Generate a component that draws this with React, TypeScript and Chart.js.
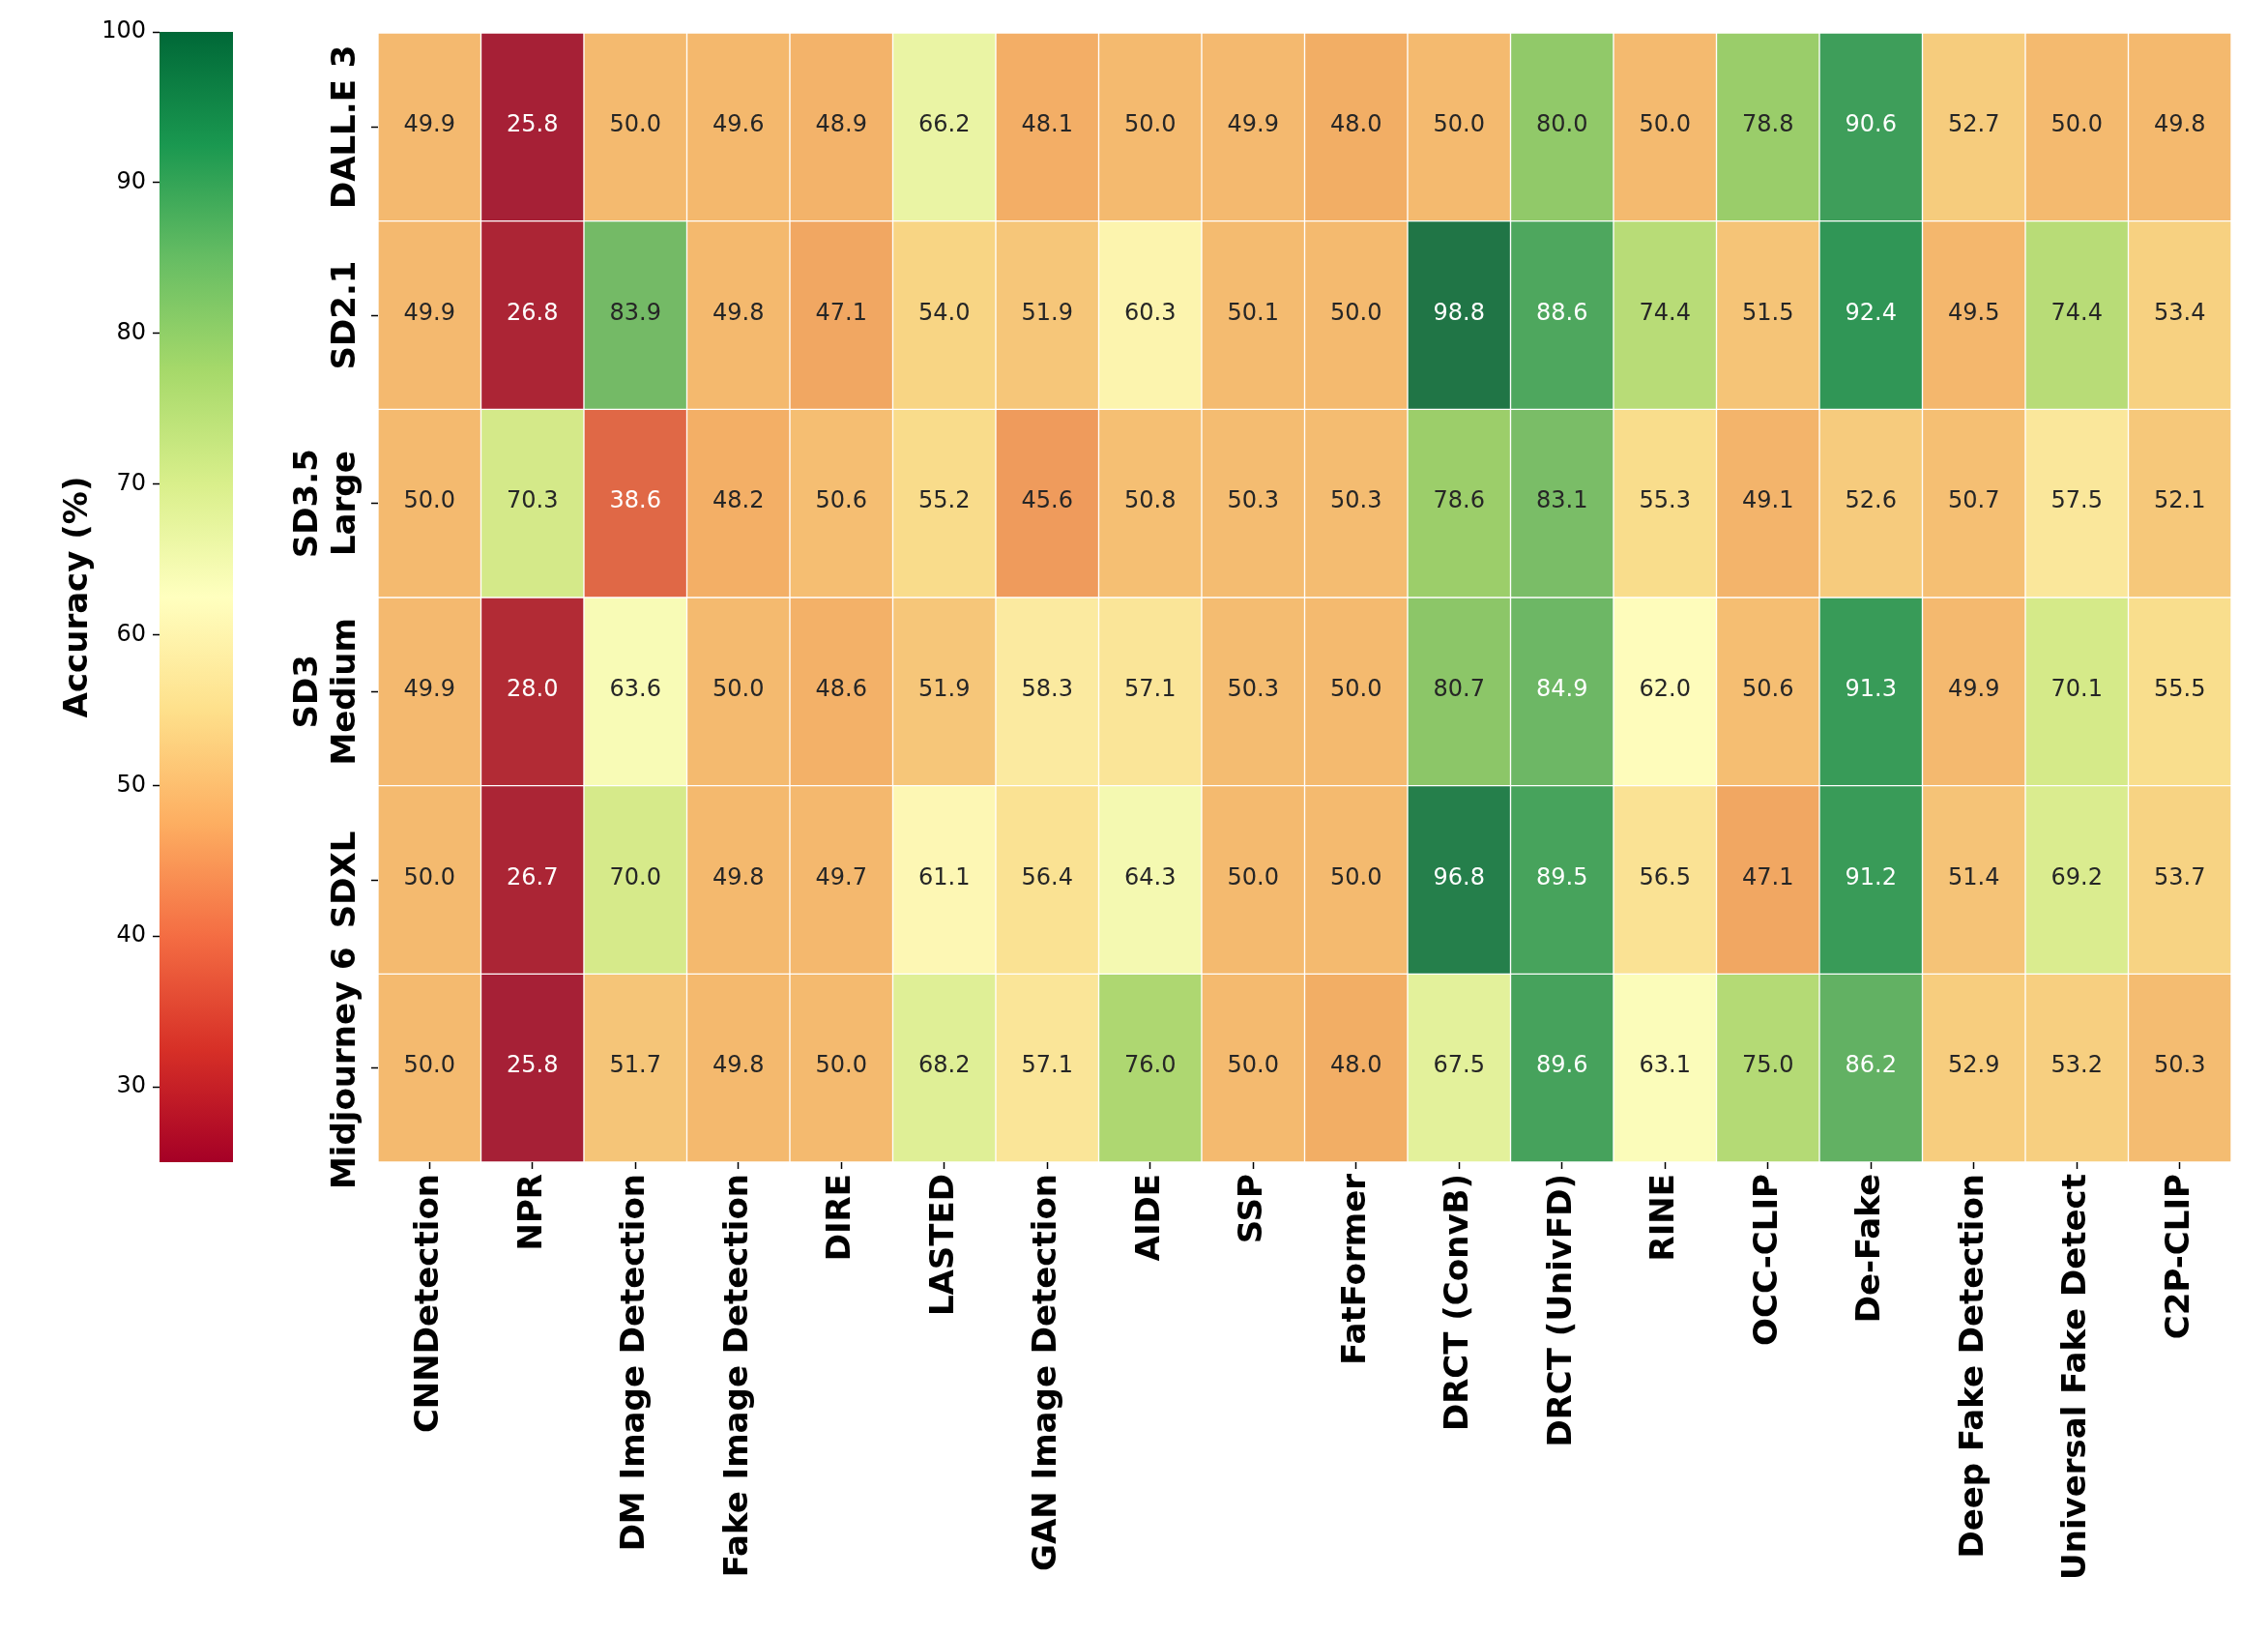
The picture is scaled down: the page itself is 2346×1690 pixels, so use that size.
import React, { useEffect, useRef } from 'react';
import { Chart, registerables } from 'chart.js';

Chart.register(...registerables);

// ---------- data ----------
const detectors = [
  'CNNDetection', 'NPR', 'DM Image Detection', 'Fake Image Detection', 'DIRE', 'LASTED',
  'GAN Image Detection', 'AIDE', 'SSP', 'FatFormer', 'DRCT (ConvB)', 'DRCT (UnivFD)',
  'RINE', 'OCC-CLIP', 'De-Fake', 'Deep Fake Detection', 'Universal Fake Detect', 'C2P-CLIP',
];

const generators: string[][] = [
  ['DALL.E 3'], ['SD2.1'], ['SD3.5', 'Large'], ['SD3', 'Medium'], ['SDXL'], ['Midjourney 6'],
];

const dalle3 = [49.9, 25.8, 50.0, 49.6, 48.9, 66.2, 48.1, 50.0, 49.9, 48.0, 50.0, 80.0, 50.0, 78.8, 90.6, 52.7, 50.0, 49.8];
const sd21 = [49.9, 26.8, 83.9, 49.8, 47.1, 54.0, 51.9, 60.3, 50.1, 50.0, 98.8, 88.6, 74.4, 51.5, 92.4, 49.5, 74.4, 53.4];
const sd35Large = [50.0, 70.3, 38.6, 48.2, 50.6, 55.2, 45.6, 50.8, 50.3, 50.3, 78.6, 83.1, 55.3, 49.1, 52.6, 50.7, 57.5, 52.1];
const sd3Medium = [49.9, 28.0, 63.6, 50.0, 48.6, 51.9, 58.3, 57.1, 50.3, 50.0, 80.7, 84.9, 62.0, 50.6, 91.3, 49.9, 70.1, 55.5];
const sdxl = [50.0, 26.7, 70.0, 49.8, 49.7, 61.1, 56.4, 64.3, 50.0, 50.0, 96.8, 89.5, 56.5, 47.1, 91.2, 51.4, 69.2, 53.7];
const midjourney6 = [50.0, 25.8, 51.7, 49.8, 50.0, 68.2, 57.1, 76.0, 50.0, 48.0, 67.5, 89.6, 63.1, 75.0, 86.2, 52.9, 53.2, 50.3];

const accuracy = [dalle3, sd21, sd35Large, sd3Medium, sdxl, midjourney6];

const colorbarTicks = [30, 40, 50, 60, 70, 80, 90, 100];
const vmin = 25;
const vmax = 100;

// ---------- colour map (RdYlGn) ----------
const RDYLGN = ['#a50026', '#d73027', '#f46d43', '#fdae61', '#fee08b', '#ffffbf', '#d9ef8b', '#a6d96a', '#66bd63', '#1a9850', '#006837'];
const hexToRgb = (h: string) => [parseInt(h.slice(1, 3), 16), parseInt(h.slice(3, 5), 16), parseInt(h.slice(5, 7), 16)];
const RDYLGN_RGB = RDYLGN.map(hexToRgb);

function cmap(v: number): number[] {
  let t = (v - vmin) / (vmax - vmin);
  t = Math.max(0, Math.min(1, t));
  const pos = t * (RDYLGN_RGB.length - 1);
  const i = Math.min(Math.floor(pos), RDYLGN_RGB.length - 2);
  const f = pos - i;
  const a = RDYLGN_RGB[i];
  const b = RDYLGN_RGB[i + 1];
  return [0, 1, 2].map((k) => a[k] + (b[k] - a[k]) * f);
}

function luminance(rgb: number[]): number {
  const lin = rgb.map((x) => {
    const s = x / 255;
    return s <= 0.03928 ? s / 12.92 : Math.pow((s + 0.055) / 1.055, 2.4);
  });
  return 0.2126 * lin[0] + 0.7152 * lin[1] + 0.0722 * lin[2];
}

const MUTE = [150, 140, 115];
function cellColor(v: number): string {
  const c = cmap(v);
  const w = 0.22 * (1 - luminance(c));
  const m = c.map((x, k) => Math.round(x * (1 - w) + MUTE[k] * w));
  return `rgb(${m[0]},${m[1]},${m[2]})`;
}

const textColor = (v: number) => (luminance(cmap(v)) > 0.408 ? '#262626' : '#ffffff');

const FONT = "'DejaVu Sans'";
const W = 2346;
const H = 1690;

// ---------- plugins ----------
const annotatePlugin = {
  id: 'annotateCells',
  afterDatasetsDraw(chart: any) {
    const c = chart.ctx;
    c.save();
    c.font = `24px ${FONT}`;
    c.textAlign = 'center';
    c.textBaseline = 'middle';
    chart.data.datasets.forEach((_ds: any, di: number) => {
      const meta = chart.getDatasetMeta(di);
      meta.data.forEach((el: any, j: number) => {
        const v = accuracy[di][j];
        const p = el.getProps(['x', 'y', 'base'], true);
        c.fillStyle = textColor(v);
        c.fillText(v.toFixed(1), p.x, (p.y + p.base) / 2 - 1.5);
      });
    });
    c.restore();
  },
};

const rowLabelPlugin = {
  id: 'rowLabels',
  afterDraw(chart: any) {
    const c = chart.ctx;
    const yScale = chart.scales.y;
    const xLast = chart.chartArea.left - 33;
    c.save();
    c.font = `bold 34px ${FONT}`;
    c.fillStyle = '#000';
    c.textAlign = 'center';
    c.textBaseline = 'middle';
    generators.forEach((lines, i) => {
      const y = yScale.getPixelForValue(i + 0.5);
      lines.forEach((line, k) => {
        const x = xLast - (lines.length - 1 - k) * 39;
        c.save();
        c.translate(x, y);
        c.rotate(-Math.PI / 2);
        c.fillText(line, 0, 0);
        c.restore();
      });
    });
    c.restore();
  },
};

export default function App() {
  const heatRef = useRef<HTMLCanvasElement | null>(null);
  const cbRef = useRef<HTMLCanvasElement | null>(null);

  useEffect(() => {
    Chart.defaults.font.family = FONT;
    Chart.defaults.color = '#000';

    const heat = new Chart(heatRef.current as HTMLCanvasElement, {
      type: 'bar',
      data: {
        labels: detectors,
        datasets: accuracy.map((rowVals, i) => ({
          label: generators[i].join(' '),
          data: rowVals.map(() => [i, i + 1]) as any,
          backgroundColor: rowVals.map((v) => cellColor(v)),
          borderColor: '#ffffff',
          borderWidth: 1,
          borderSkipped: false,
          barPercentage: 1,
          categoryPercentage: 1,
          grouped: false,
        })),
      },
      options: {
        responsive: false,
        animation: false,
        events: [],
        layout: { padding: { left: 0, right: 38, top: 34, bottom: 0 } },
        plugins: { legend: { display: false }, tooltip: { enabled: false } },
        scales: {
          x: {
            type: 'category',
            offset: true,
            grid: { display: true, drawOnChartArea: false, drawTicks: true, tickLength: 7, tickWidth: 1.5, tickColor: '#000', offset: false },
            border: { display: false },
            ticks: { autoSkip: false, minRotation: 90, maxRotation: 90, padding: 5, color: '#000', font: { size: 34, weight: 'bold' } },
            afterFit: (s: any) => { s.height = H - 1202; },
          },
          y: {
            type: 'linear',
            min: 0,
            max: generators.length,
            reverse: true,
            afterBuildTicks: (s: any) => { s.ticks = generators.map((_g, i) => ({ value: i + 0.5 })); },
            grid: { display: true, drawOnChartArea: false, drawTicks: true, tickLength: 7, tickWidth: 1.5, tickColor: '#000' },
            border: { display: false },
            ticks: { display: false },
            afterFit: (s: any) => { s.width = 391; },
          },
        },
      } as any,
      plugins: [annotatePlugin, rowLabelPlugin],
    });

    const cb = new Chart(cbRef.current as HTMLCanvasElement, {
      type: 'bar',
      data: {
        labels: ['colorbar'],
        datasets: [{
          data: [[vmin, vmax]] as any,
          backgroundColor: (ctx: any) => {
            const chart = ctx.chart;
            if (!chart.chartArea) return '#ffffff';
            const y = chart.scales.y;
            const g = chart.ctx.createLinearGradient(0, y.getPixelForValue(vmin), 0, y.getPixelForValue(vmax));
            RDYLGN.forEach((col, i) => g.addColorStop(i / (RDYLGN.length - 1), col));
            return g;
          },
          borderWidth: 0,
          barPercentage: 1,
          categoryPercentage: 1,
        }],
      },
      options: {
        responsive: false,
        animation: false,
        events: [],
        layout: { padding: { left: 0, right: W - 241, top: 33, bottom: H - 1202 } },
        plugins: { legend: { display: false }, tooltip: { enabled: false } },
        scales: {
          x: { display: false },
          y: {
            type: 'linear',
            min: vmin,
            max: vmax,
            afterBuildTicks: (s: any) => { s.ticks = colorbarTicks.map((v) => ({ value: v })); },
            grid: { display: true, drawOnChartArea: false, drawTicks: true, tickLength: 7, tickWidth: 1.5, tickColor: '#000' },
            border: { display: false },
            ticks: { color: '#000', padding: 7, font: { size: 24 } },
            title: { display: true, text: 'Accuracy (%)', color: '#000', font: { size: 34, weight: 'bold' }, padding: { top: 61, bottom: 0 } },
            afterFit: (s: any) => { s.width = 165; },
          },
        },
      } as any,
    });

    return () => {
      heat.destroy();
      cb.destroy();
    };
  }, []);

  return (
    <div style={{ position: 'fixed', left: 0, top: 0, width: W, height: H, background: '#ffffff' }}>
      <canvas ref={cbRef} width={W} height={H} style={{ position: 'absolute', left: 0, top: 0, width: W, height: H }} />
      <canvas ref={heatRef} width={W} height={H} style={{ position: 'absolute', left: 0, top: 0, width: W, height: H }} />
    </div>
  );
}
